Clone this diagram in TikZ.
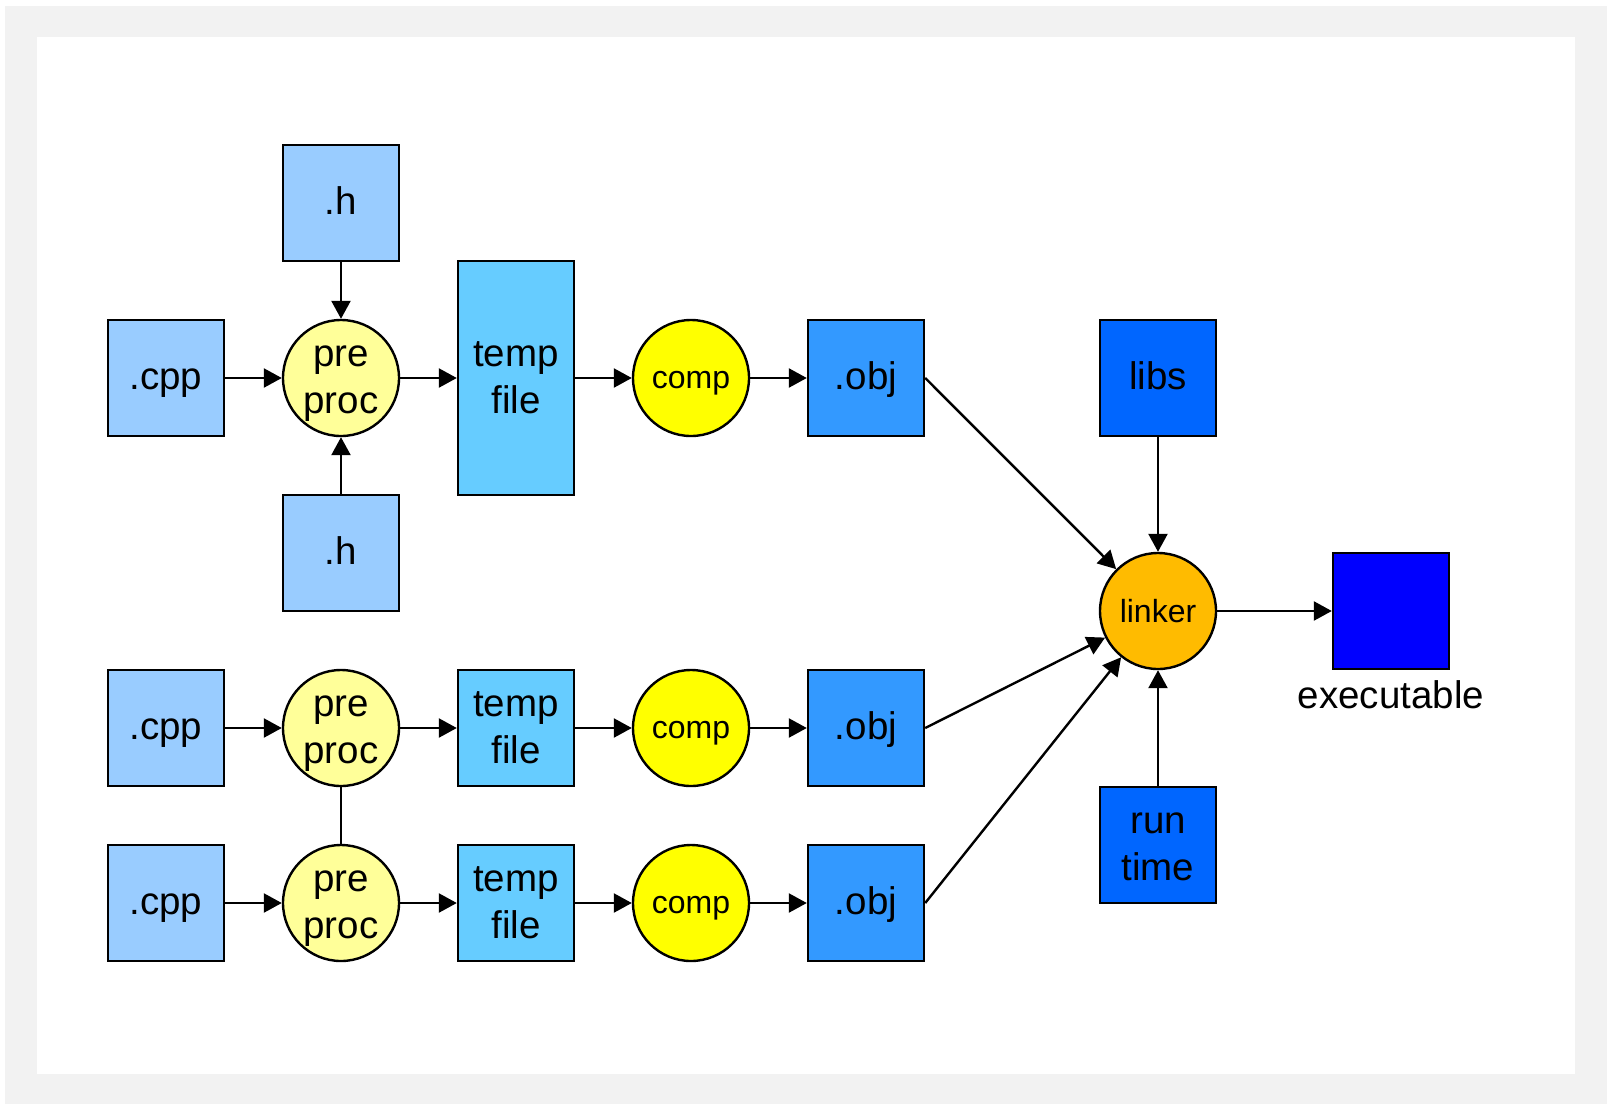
\documentclass[tikz,border=0pt]{standalone}
\usepackage{fontspec}
\setmainfont{Liberation Sans}
\usetikzlibrary{arrows.meta}
\definecolor{bggray}{HTML}{F2F2F2}
\definecolor{srcblue}{HTML}{99CCFF}
\definecolor{tmpblue}{HTML}{66CCFF}
\definecolor{objblue}{HTML}{3399FF}
\definecolor{libblue}{HTML}{0066FF}
\definecolor{exeblue}{HTML}{0000FF}
\definecolor{ppyellow}{HTML}{FFFF99}
\definecolor{compyellow}{HTML}{FFFF00}
\definecolor{linkorange}{HTML}{FFBB00}
\newcommand{\bigstr}{\rule[-8pt]{0pt}{39pt}}
\newcommand{\smallstr}{\rule[-6.5pt]{0pt}{35pt}}
\tikzset{
  bigtext/.style={font=\fontsize{38.5}{47}\selectfont},
  smalltext/.style={font=\fontsize{32}{38}\selectfont},
  filebox/.style={draw=black, line width=2.4pt, rectangle, minimum width=116pt, minimum height=116pt, inner sep=0pt, align=center, bigtext},
  proccirc/.style={draw=black, line width=2.4pt, circle, minimum size=116pt, inner sep=0pt, align=center},
  arr/.style={line width=2.4pt, -{Triangle[length=18pt,width=19pt]}},
  plain/.style={line width=2.4pt}
}
\begin{document}
\begin{tikzpicture}[x=1pt,y=-1pt]
\path[use as bounding box, fill=white] (0,0) rectangle (1614,1109);
\fill[bggray] (5,6) rectangle (1607,1104);
\fill[white] (37,37) rectangle (1575,1074);

% row 1
\node[filebox, fill=srcblue] (h1) at (341,203) {\bigstr.h};
\node[filebox, fill=srcblue] (h2) at (341,553) {\bigstr.h};
\node[filebox, fill=srcblue] (cpp1) at (166,378) {\bigstr.cpp};
\node[proccirc, fill=ppyellow, bigtext] (pp1) at (341,378) {\bigstr pre\\\bigstr proc};
\node[filebox, fill=tmpblue, minimum height=234pt] (tf1) at (516,378) {\bigstr temp\\\bigstr file};
\node[proccirc, fill=compyellow, smalltext] (c1) at (691,378) {\smallstr comp};
\node[filebox, fill=objblue] (o1) at (866,378) {\bigstr.obj};

% row 2
\node[filebox, fill=srcblue] (cpp2) at (166,728) {\bigstr.cpp};
\node[proccirc, fill=ppyellow, bigtext] (pp2) at (341,728) {\bigstr pre\\\bigstr proc};
\node[filebox, fill=tmpblue] (tf2) at (516,728) {\bigstr temp\\\bigstr file};
\node[proccirc, fill=compyellow, smalltext] (c2) at (691,728) {\smallstr comp};
\node[filebox, fill=objblue] (o2) at (866,728) {\bigstr.obj};

% row 3
\node[filebox, fill=srcblue] (cpp3) at (166,903) {\bigstr.cpp};
\node[proccirc, fill=ppyellow, bigtext] (pp3) at (341,903) {\bigstr pre\\\bigstr proc};
\node[filebox, fill=tmpblue] (tf3) at (516,903) {\bigstr temp\\\bigstr file};
\node[proccirc, fill=compyellow, smalltext] (c3) at (691,903) {\smallstr comp};
\node[filebox, fill=objblue] (o3) at (866,903) {\bigstr.obj};

% linker
\node[filebox, fill=libblue] (libs) at (1158,378) {\bigstr libs};
\node[proccirc, fill=linkorange, smalltext] (lk) at (1158,611) {\smallstr linker};
\node[filebox, fill=libblue] (rt) at (1158,845) {\bigstr run\\\bigstr time};
\node[filebox, fill=exeblue] (exe) at (1391,611) {};
\node[bigtext, anchor=base, inner sep=0pt] (exel) at (1391,708) {executable};

% connectors
\draw[arr] (h1) -- (pp1);
\draw[arr] (h2) -- (pp1);
\draw[arr] (cpp1) -- (pp1);
\draw[arr] (pp1) -- (tf1);
\draw[arr] (tf1) -- (c1);
\draw[arr] (c1) -- (o1);

\draw[arr] (cpp2) -- (pp2);
\draw[arr] (pp2) -- (tf2);
\draw[arr] (tf2) -- (c2);
\draw[arr] (c2) -- (o2);

\draw[arr] (cpp3) -- (pp3);
\draw[arr] (pp3) -- (tf3);
\draw[arr] (tf3) -- (c3);
\draw[arr] (c3) -- (o3);

\draw[plain] (pp2) -- (pp3);

\draw[arr] (o1.east) -- (lk);
\draw[arr] (o2.east) -- (lk);
\draw[arr] (o3.east) -- (lk);
\draw[arr] (libs) -- (lk);
\draw[arr] (rt) -- (lk);
\draw[arr] (lk) -- (exe);
\end{tikzpicture}
\end{document}
